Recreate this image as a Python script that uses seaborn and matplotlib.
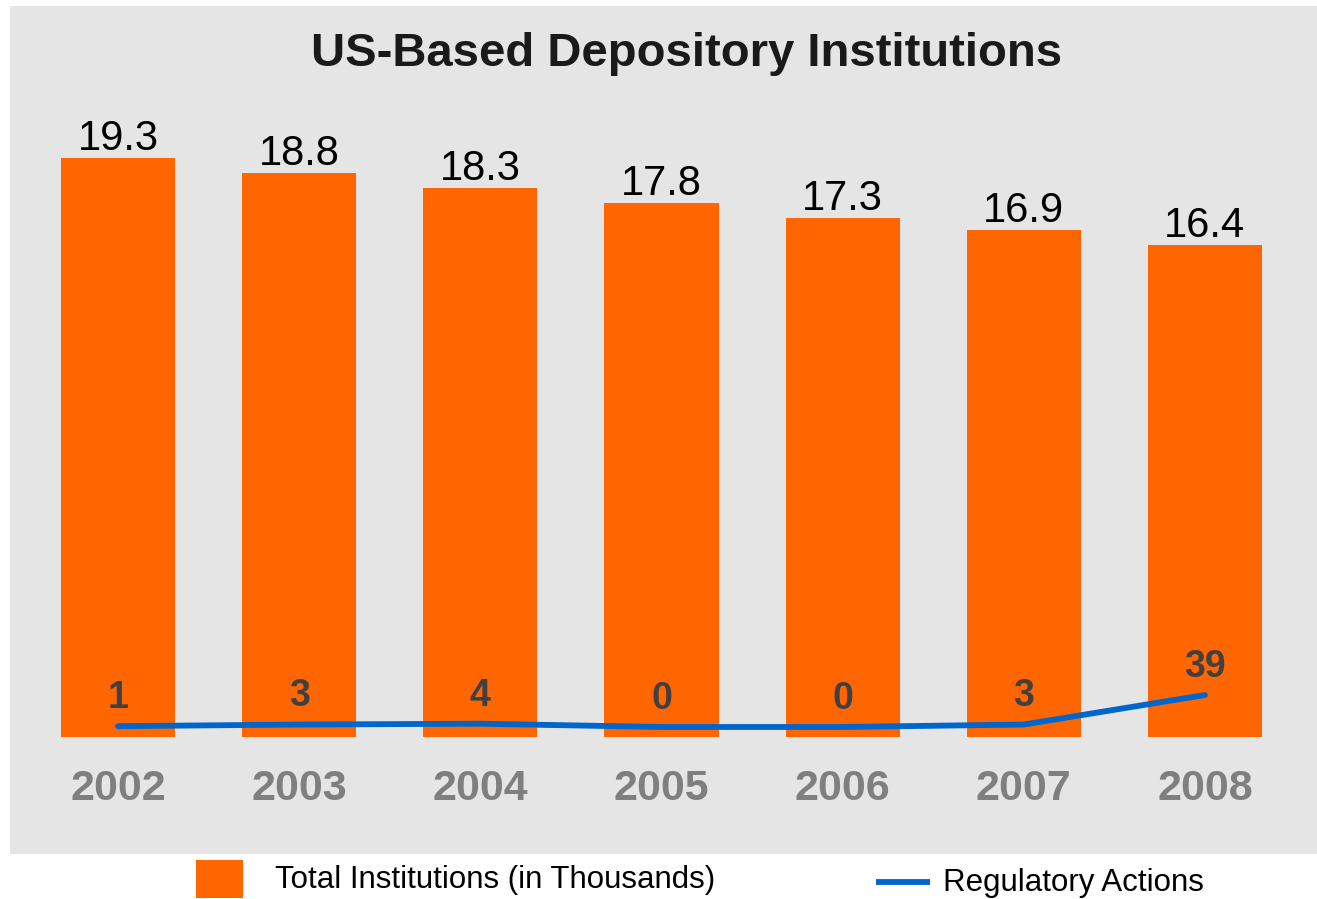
import matplotlib
matplotlib.use("Agg")
import matplotlib.pyplot as plt
from matplotlib.patches import Rectangle
from matplotlib.lines import Line2D
import seaborn as sns
import pandas as pd

# Data
years = ["2002", "2003", "2004", "2005", "2006", "2007", "2008"]
total_institutions = [19.3, 18.8, 18.3, 17.8, 17.3, 16.9, 16.4]  # thousands
regulatory_actions = [1, 3, 4, 0, 0, 3, 39]

orange = "#FF6600"
blue = "#0066CC"
panel_gray = "#E5E5E5"

sns.set_style("white")
plt.rcParams["font.family"] = ["Liberation Sans", "DejaVu Sans"]

df = pd.DataFrame({"year": years, "total": total_institutions, "actions": regulatory_actions})

fig = plt.figure(figsize=(13.17, 8.99), dpi=100, facecolor="white")

# gray panel behind the chart
fig.patches.append(Rectangle((10 / 1317, 1 - 854 / 899), 1.0, 848 / 899,
                             transform=fig.transFigure, facecolor=panel_gray,
                             edgecolor="none", zorder=-10))

ax = fig.add_axes([27.5 / 1317, 1 - 737 / 899, 1268 / 1317, 617 / 899])
ax.set_facecolor("none")

sns.barplot(data=df, x="year", y="total", color=orange, saturation=1,
            width=0.63, edgecolor="none", linewidth=0, ax=ax)
ax.set_xlim(-0.5, 6.5)
ax.set_ylim(0, 617 / 30)

# value labels on bars
for i, v in enumerate(total_institutions):
    ax.text(i, v + 0.27, f"{v}", ha="center", va="baseline",
            fontsize=30, color="black")

# year labels under the bars
for i, y in enumerate(years):
    ax.text(i, -2.1, y, ha="center", va="baseline", fontsize=31,
            fontweight="bold", color="#7F7F7F", clip_on=False)

ax.set_xticks([])
ax.set_yticks([])
ax.set_xlabel("")
ax.set_ylabel("")
sns.despine(ax=ax, left=True, bottom=True)

# regulatory actions line on a second axis
ax2 = ax.twinx()
ax2.set_facecolor("none")
df["pos"] = range(len(years))
sns.lineplot(data=df, x="pos", y="actions", color=blue, linewidth=4.2, ax=ax2)
ax2.set_xlim(-0.5, 6.5)
ax2.set_ylim(-12.2, 740)
ax2.set_yticks([])
ax2.set_ylabel("")
ax2.set_xlabel("")
for s in ax2.spines.values():
    s.set_visible(False)

for i, a in enumerate(regulatory_actions):
    ax2.annotate(f"{a}", (i, a), xytext=(0, 13), textcoords="offset points",
                 ha="center", va="baseline", fontsize=27, fontweight="bold",
                 color="#404040")

# title
fig.text(687 / 1317, 1 - 66 / 899, "US-Based Depository Institutions",
         ha="center", va="baseline", fontsize=34, fontweight="bold", color="#1A1A1A")

# legend drawn below the panel
fig.patches.append(Rectangle((196 / 1317, 1 - 898 / 899), 47 / 1317, 38 / 899,
                             transform=fig.transFigure, facecolor=orange,
                             edgecolor="none"))
fig.text(275 / 1317, 1 - 880 / 899, "Total Institutions (in Thousands)",
         ha="left", va="center", fontsize=22.5, color="black")
fig.lines.append(Line2D([876 / 1317, 930 / 1317], [1 - 882 / 899, 1 - 882 / 899],
                        transform=fig.transFigure, color=blue, linewidth=4.2,
                        solid_capstyle="butt"))
fig.text(943 / 1317, 1 - 883 / 899, "Regulatory Actions",
         ha="left", va="center", fontsize=22.5, color="black")

fig.savefig("out.png", dpi=100, facecolor="white")
